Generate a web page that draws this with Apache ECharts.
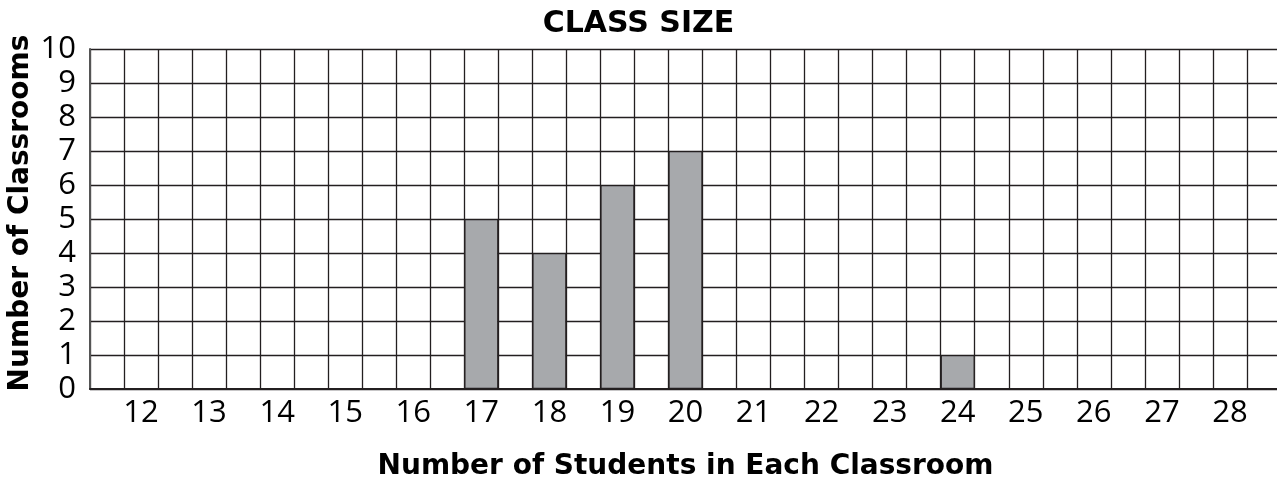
<!DOCTYPE html>
<html>
<head>
<meta charset="utf-8">
<script src="https://cdn.jsdelivr.net/npm/echarts@6/dist/echarts.min.js"></script>
<style>
html,body{margin:0;padding:0;background:#fff;}
#chart{width:1277px;height:482px;}
</style>
</head>
<body>
<div id="chart"></div>
<script>
var titleText = 'CLASS SIZE';
var xName = 'Number of Students in Each Classroom';
var yName = 'Number of Classrooms';
var categories = ['12','13','14','15','16','17','18','19','20','21','22','23','24','25','26','27','28'];
var classrooms = [0,0,0,0,0,5,4,6,7,0,0,0,1,0,0,0,0];
var yTicks = [0,1,2,3,4,5,6,7,8,9,10];

// Each category occupies one grid column, with an empty column between (and at both ends)
var slots = [''];
var slotValues = [null];
categories.forEach(function(c, i){
  slots.push(c); slotValues.push(classrooms[i] > 0 ? classrooms[i] : null);
  slots.push(''); slotValues.push(null);
});

var FONT = '"Open Sans", "Noto Sans", sans-serif';
var BOLD = '"DejaVu Sans", sans-serif';
var chart = echarts.init(document.getElementById('chart'), null, {renderer:'canvas'});
chart.setOption({
  animation: false,
  backgroundColor: '#ffffff',
  title: {
    text: titleText, left: 'center', top: 4,
    textStyle: {fontFamily: BOLD, fontWeight: 'bold', fontSize: 30, color: '#000'}
  },
  grid: {left: 90, top: 49, width: 1191, height: 340, containLabel: false, outerBoundsMode: 'none'},
  xAxis: {
    type: 'category',
    data: slots,
    boundaryGap: true,
    name: xName,
    nameLocation: 'middle',
    nameGap: 64,
    nameTextStyle: {fontFamily: BOLD, fontWeight: 'bold', fontSize: 28, color: '#000'},
    axisLine: {show: true, lineStyle: {color: '#231f20', width: 2}},
    axisTick: {show: false},
    axisLabel: {interval: 0, fontFamily: FONT, fontSize: 31, color: '#000', margin: 9},
    splitLine: {show: true, interval: 0, lineStyle: {color: '#231f20', width: 1.3}}
  },
  yAxis: {
    type: 'value',
    min: 0, max: 10, interval: 1,
    name: yName,
    nameLocation: 'middle',
    nameRotate: 90,
    nameGap: 55,
    nameMoveOverlap: false,
    nameTextStyle: {fontFamily: BOLD, fontWeight: 'bold', fontSize: 28, color: '#000', padding: [0, 0, 0, 12]},
    axisLine: {show: true, lineStyle: {color: '#555', width: 2}},
    axisTick: {show: false},
    axisLabel: {
      fontFamily: FONT, fontSize: 31, color: '#000', margin: 14,
      formatter: function(v){ return yTicks.indexOf(v) >= 0 ? String(v) : ''; }
    },
    splitLine: {show: true, lineStyle: {color: '#231f20', width: 1.3}}
  },
  series: [{
    type: 'bar',
    data: slotValues,
    barWidth: '100%',
    itemStyle: {color: '#a7a9ac', borderColor: '#231f20', borderWidth: 1.2}
  }]
});
</script>
</body>
</html>
